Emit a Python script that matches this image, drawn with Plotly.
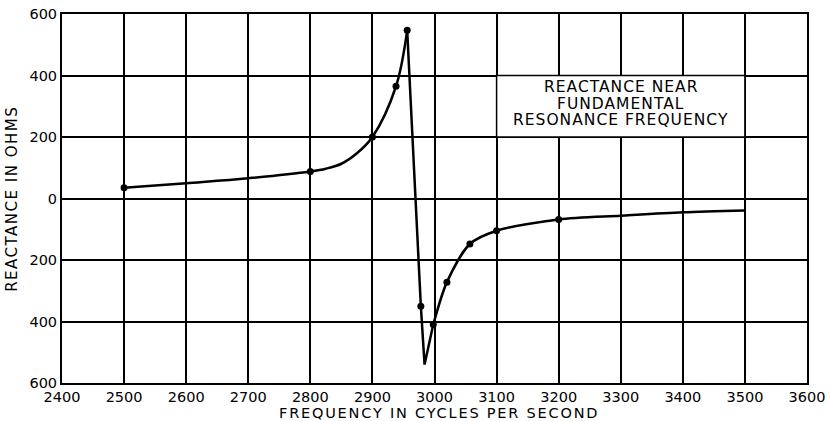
import plotly.graph_objects as go

# Measured points (frequency in c/s, reactance in ohms)
meas_freq = [2500, 2800, 2900, 2938, 2956, 2978, 2998, 3020, 3057, 3100, 3200]
meas_x = [35, 88, 200, 365, 547, -350, -410, -272, -148, -105, -68]

# Curve, in three segments
rise_freq = [2500, 2600, 2700, 2800, 2825, 2850, 2875, 2900, 2938, 2956]
rise_x = [35, 50, 66, 88, 97, 113, 147, 200, 365, 547]
drop_freq = [2956, 2978, 2984, 2998]
drop_x = [547, -350, -540, -410]
rec_freq = [2998, 3020, 3057, 3100, 3200, 3300, 3400, 3500]
rec_x = [-410, -272, -148, -105, -68, -56, -45, -39]

x_ticks = [2400, 2500, 2600, 2700, 2800, 2900, 3000, 3100, 3200, 3300, 3400, 3500, 3600]
y_ticks = [-600, -400, -200, 0, 200, 400, 600]
y_ticktext = ["600", "400", "200", "0", "200", "400", "600"]

x_title = "FREQUENCY IN CYCLES PER SECOND"
y_title = "REACTANCE IN OHMS"

note_lines = ["REACTANCE NEAR", "FUNDAMENTAL", "RESONANCE FREQUENCY"]
note_line_y = [362, 308, 254]
note_box_x = [3100, 3500]
note_box_y = [200, 400]

FONT = "DejaVu Sans"
line_style = dict(color="black", width=2.5)


def spaced(txt, px):
    return f'<span style="letter-spacing:{px}px">{txt}</span>'


fig = go.Figure()
fig.add_trace(go.Scatter(x=rise_freq, y=rise_x, mode="lines",
                         line=dict(shape="spline", smoothing=1.0, **line_style),
                         showlegend=False, hoverinfo="skip"))
fig.add_trace(go.Scatter(x=drop_freq, y=drop_x, mode="lines",
                         line=dict(shape="linear", **line_style),
                         showlegend=False, hoverinfo="skip"))
fig.add_trace(go.Scatter(x=rec_freq, y=rec_x, mode="lines",
                         line=dict(shape="spline", smoothing=0.8, **line_style),
                         showlegend=False, hoverinfo="skip"))
fig.add_trace(go.Scatter(x=meas_freq, y=meas_x, mode="markers",
                         marker=dict(color="black", size=7),
                         showlegend=False))

fig.add_shape(type="rect", xref="x", yref="y",
              x0=note_box_x[0], x1=note_box_x[1], y0=note_box_y[0], y1=note_box_y[1],
              fillcolor="white", line=dict(color="black", width=1.5), layer="between")
for txt, ly in zip(note_lines, note_line_y):
    fig.add_annotation(x=(note_box_x[0] + note_box_x[1]) / 2, y=ly,
                       xref="x", yref="y", text=spaced(txt, 1), showarrow=False,
                       xanchor="center", yanchor="middle", borderpad=0,
                       font=dict(family=FONT, size=15.5, color="black"))

# axis titles placed as annotations (paper coords relative to plot area)
fig.add_annotation(x=0.506, y=-0.0813, xref="paper", yref="paper", text=spaced(x_title, 1.8),
                   showarrow=False, xanchor="center", yanchor="middle", borderpad=0,
                   font=dict(family=FONT, size=14.5, color="black"))
fig.add_annotation(x=-0.068, y=0.5, xref="paper", yref="paper", text=spaced(y_title, 1.5),
                   showarrow=False, textangle=-90, xanchor="center", yanchor="middle",
                   font=dict(family=FONT, size=15, color="black"))

tick_font = dict(family=FONT, size=14.5, color="black")
fig.update_layout(
    width=830, height=421,
    margin=dict(l=62, r=23, t=14, b=38),
    paper_bgcolor="white", plot_bgcolor="white",
    font=dict(family=FONT, color="black"),
    xaxis=dict(range=[2400, 3600], tickvals=x_ticks, showgrid=True, automargin=False,
               gridcolor="black", gridwidth=1.5, zeroline=False,
               showline=True, linecolor="black", linewidth=2, mirror=True,
               ticks="", tickfont=tick_font),
    yaxis=dict(range=[-600, 600], tickvals=y_ticks, ticktext=y_ticktext, showgrid=True,
               automargin=False,
               gridcolor="black", gridwidth=1.5, zeroline=False,
               showline=True, linecolor="black", linewidth=2, mirror=True,
               ticks="", tickfont=tick_font),
)

fig.write_html("out.html")
